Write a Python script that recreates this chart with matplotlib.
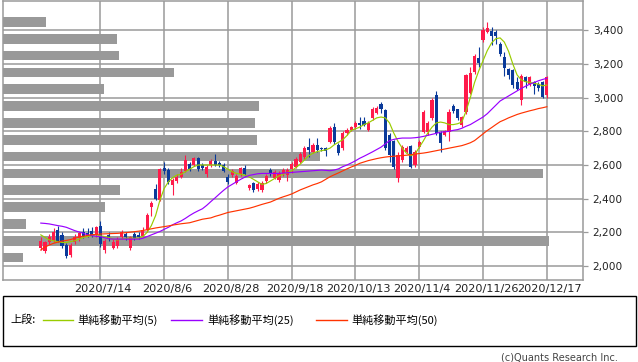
import matplotlib
matplotlib.use("Agg")
import matplotlib.pyplot as plt
from matplotlib.lines import Line2D
from matplotlib.patches import Rectangle
from matplotlib.transforms import ScaledTranslation
import numpy as np

# ---------------- data ----------------
opens = [2110, 2090, 2140, 2150, 2215, 2185, 2125, 2065, 2140, 2165,
         2200, 2195, 2210, 2185, 2235, 2095, 2185, 2110, 2120, 2170,
         2190, 2110, 2190, 2185, 2180, 2215, 2350, 2455, 2395, 2585,
         2570, 2480, 2505, 2530, 2565, 2605, 2600, 2640, 2600, 2545,
         2600, 2625, 2610, 2600, 2530, 2540, 2495, 2545, 2580, 2465,
         2495, 2455, 2450, 2505, 2570, 2525, 2510, 2545, 2540, 2575,
         2590, 2620, 2645, 2705, 2680, 2720, 2700, 2700, 2735, 2825,
         2720, 2700, 2790, 2805, 2825, 2850, 2860, 2810, 2880, 2910,
         2960, 2925, 2780, 2740, 2525, 2630, 2680, 2710, 2600, 2705,
         2795, 2795, 2880, 3015, 2790, 2780, 2795, 2950, 2930, 2835,
         2915, 3025, 3150, 3235, 3340, 3390, 3395, 3390, 3320, 3240,
         3170, 3165, 3095, 2985, 3125, 3080, 3095, 3080, 3095, 3015]
highs = [2170, 2150, 2190, 2225, 2240, 2200, 2135, 2135, 2190, 2205,
         2225, 2225, 2230, 2240, 2265, 2160, 2205, 2160, 2170, 2215,
         2200, 2180, 2200, 2200, 2230, 2315, 2385, 2490, 2585, 2620,
         2580, 2525, 2545, 2580, 2660, 2620, 2650, 2645, 2610, 2600,
         2635, 2665, 2625, 2610, 2545, 2575, 2545, 2590, 2600, 2490,
         2500, 2500, 2505, 2545, 2580, 2570, 2565, 2580, 2580, 2615,
         2645, 2680, 2710, 2760, 2730, 2760, 2705, 2705, 2830, 2850,
         2730, 2800, 2820, 2830, 2860, 2885, 2885, 2860, 2945, 2950,
         2975, 2935, 2790, 2750, 2680, 2720, 2710, 2720, 2690, 2750,
         2925, 2860, 2995, 3040, 2800, 2810, 2930, 2960, 2935, 2890,
         3140, 3180, 3260, 3300, 3420, 3450, 3420, 3400, 3330, 3270,
         3175, 3170, 3120, 3140, 3130, 3130, 3100, 3090, 3100, 3130]
lows = [2095, 2075, 2130, 2140, 2140, 2105, 2045, 2055, 2130, 2150,
        2165, 2170, 2175, 2175, 2115, 2080, 2150, 2100, 2110, 2160,
        2155, 2095, 2155, 2160, 2170, 2200, 2295, 2390, 2385, 2545,
        2490, 2420, 2495, 2520, 2560, 2565, 2595, 2565, 2570, 2530,
        2590, 2595, 2590, 2560, 2485, 2530, 2485, 2535, 2535, 2450,
        2440, 2445, 2440, 2495, 2535, 2515, 2500, 2535, 2505, 2555,
        2580, 2610, 2635, 2650, 2670, 2680, 2685, 2655, 2730, 2725,
        2660, 2690, 2780, 2800, 2815, 2815, 2830, 2800, 2870, 2900,
        2910, 2690, 2620, 2575, 2500, 2620, 2670, 2580, 2590, 2700,
        2790, 2780, 2870, 2780, 2680, 2770, 2740, 2910, 2870, 2825,
        2905, 3020, 3140, 3180, 3330, 3385, 3310, 3320, 3250, 3130,
        3110, 3060, 3045, 2955, 3060, 3070, 3020, 3040, 3000, 3000]
closes = [2150, 2140, 2175, 2205, 2150, 2120, 2060, 2125, 2175, 2195,
          2180, 2180, 2185, 2230, 2130, 2150, 2165, 2145, 2160, 2205,
          2170, 2170, 2165, 2170, 2215, 2305, 2375, 2400, 2575, 2565,
          2500, 2510, 2530, 2560, 2630, 2575, 2640, 2575, 2585, 2590,
          2625, 2600, 2600, 2565, 2500, 2565, 2535, 2580, 2545, 2480,
          2450, 2490, 2495, 2535, 2545, 2560, 2555, 2570, 2570, 2605,
          2635, 2665, 2700, 2690, 2720, 2690, 2695, 2685, 2820, 2735,
          2670, 2790, 2810, 2825, 2850, 2840, 2840, 2850, 2930, 2940,
          2930, 2700, 2660, 2590, 2660, 2705, 2700, 2590, 2680, 2735,
          2915, 2850, 2985, 2790, 2730, 2800, 2915, 2920, 2880, 2885,
          3135, 3145, 3250, 3205, 3400, 3415, 3365, 3365, 3260, 3175,
          3135, 3075, 3050, 3130, 3095, 3125, 3070, 3055, 3005, 3125]

sma5 = [2185, 2170, 2155, 2150, 2145, 2140, 2140, 2145, 2150, 2160,
        2170, 2175, 2180, 2185, 2180, 2175, 2170, 2160, 2155, 2160,
        2165, 2165, 2165, 2165, 2175, 2200, 2240, 2300, 2390, 2460,
        2500, 2525, 2540, 2545, 2560, 2575, 2590, 2600, 2600, 2600,
        2600, 2600, 2600, 2590, 2575, 2560, 2550, 2545, 2540, 2530,
        2515, 2500, 2485, 2490, 2505, 2520, 2535, 2545, 2555, 2565,
        2585, 2605, 2630, 2655, 2670, 2680, 2685, 2690, 2700, 2720,
        2735, 2750, 2775, 2805, 2815, 2825, 2840, 2850, 2865, 2880,
        2885, 2880, 2850, 2790, 2740, 2700, 2670, 2655, 2665, 2705,
        2745, 2790, 2825, 2850, 2855, 2850, 2840, 2840, 2845, 2855,
        2920, 3000, 3090, 3160, 3220, 3280, 3325, 3350, 3355, 3330,
        3275, 3200, 3135, 3105, 3095, 3090, 3085, 3080, 3070, 3075]
sma25 = [2255, 2253, 2250, 2245, 2240, 2236, 2230, 2220, 2210, 2202,
         2195, 2185, 2180, 2177, 2175, 2168, 2162, 2160, 2160, 2160,
         2160, 2160, 2160, 2160, 2165, 2175, 2185, 2195, 2205, 2218,
         2230, 2245, 2257, 2268, 2283, 2300, 2315, 2328, 2340, 2360,
         2383, 2405, 2428, 2450, 2470, 2485, 2500, 2515, 2528, 2538,
         2543, 2548, 2550, 2550, 2550, 2550, 2550, 2552, 2554, 2556,
         2558, 2560, 2562, 2564, 2566, 2568, 2570, 2568, 2566, 2570,
         2577, 2590, 2600, 2612, 2625, 2640, 2652, 2665, 2678, 2692,
         2706, 2725, 2745, 2752, 2757, 2760, 2760, 2760, 2762, 2765,
         2770, 2776, 2782, 2788, 2795, 2797, 2800, 2806, 2810, 2818,
         2830, 2840, 2855, 2870, 2885, 2905, 2930, 2955, 2980, 2995,
         3010, 3025, 3040, 3055, 3068, 3080, 3090, 3100, 3108, 3115]
sma50 = [2095, 2113, 2125, 2135, 2142, 2148, 2152, 2157, 2165, 2173,
         2177, 2182, 2186, 2188, 2190, 2191, 2192, 2193, 2194, 2196,
         2198, 2201, 2204, 2207, 2211, 2216, 2221, 2226, 2230, 2234,
         2238, 2243, 2247, 2251, 2254, 2257, 2264, 2271, 2278, 2282,
         2286, 2295, 2302, 2310, 2318, 2323, 2328, 2333, 2338, 2343,
         2350, 2358, 2366, 2373, 2380, 2391, 2402, 2411, 2419, 2428,
         2440, 2452, 2462, 2472, 2482, 2490, 2500, 2515, 2530, 2542,
         2553, 2565, 2577, 2588, 2598, 2610, 2618, 2626, 2632, 2638,
         2643, 2647, 2650, 2652, 2654, 2656, 2658, 2661, 2665, 2668,
         2671, 2675, 2680, 2685, 2690, 2695, 2700, 2705, 2710, 2715,
         2723, 2732, 2745, 2765, 2785, 2805, 2822, 2840, 2857, 2868,
         2880, 2890, 2900, 2908, 2915, 2922, 2928, 2935, 2940, 2946]

# volume-by-price profile (price bin centres, relative volume)
vp_price = [3450, 3350, 3250, 3150, 3050, 2950, 2850, 2750, 2650, 2550,
            2450, 2350, 2250, 2150, 2050]
vp_volume = [43, 114, 116, 171, 101, 256, 252, 254, 317, 540,
             117, 102, 23, 546, 20]

tick_idx = [14, 29, 44, 59, 74, 89, 104, 119]
tick_labels = ["2020/7/14", "2020/8/6", "2020/8/28", "2020/9/18",
               "2020/10/13", "2020/11/4", "2020/11/26", "2020/12/17"]
y_ticks = [2000, 2200, 2400, 2600, 2800, 3000, 3200, 3400]

legend_head = "上段:"
ma_labels = ["単純移動平均(5)", "単純移動平均(25)", "単純移動平均(50)"]
credit = "(c)Quants Research Inc."

# ---------------- styling ----------------
RED = "#ff1a4a"
BLUE = "#0a3a9a"
C5, C25, C50 = "#99cc00", "#9900ff", "#ff3300"
GRID = "#9a9a9a"

W, H = 638, 362
fig = plt.figure(figsize=(W / 100, H / 100), dpi=100)
fig.patch.set_facecolor("white")

def fx(px):
    return px / W

def fy(py):
    return 1 - py / H

rect = [fx(3), fy(280), fx(580), 279 / H]
ax = fig.add_axes(rect)
axv = ax.twiny()
ax.set_zorder(2)
axv.set_zorder(1)
ax.patch.set_visible(False)

# volume profile
axv.barh(vp_price, vp_volume, height=58, left=0, color="#999999", linewidth=0)
axv.set_xlim(0, 580)
axv.xaxis.set_visible(False)
for s in axv.spines.values():
    s.set_visible(False)

idx = np.arange(len(closes))
O = np.array(opens); Hh = np.array(highs); L = np.array(lows); C = np.array(closes)
cols = [RED if c >= o else BLUE for o, c in zip(O, C)]
ax.vlines(idx, L, Hh, colors=cols, linewidth=0.8, zorder=3)
ax.bar(idx, np.maximum(np.abs(C - O), 5), bottom=np.minimum(O, C), width=0.74,
       color=cols, linewidth=0, zorder=4)

ax.plot(idx, sma5, color=C5, lw=0.85, zorder=5)
ax.plot(idx, sma25, color=C25, lw=0.85, zorder=5)
ax.plot(idx, sma50, color=C50, lw=0.85, zorder=5)

ax.set_xlim(-8.89, 127.5)
ax.set_ylim(1917, 3574)
ax.set_xticks(tick_idx)
ax.set_xticklabels(tick_labels)
ax.set_yticks(y_ticks)
ax.set_yticklabels([f"{v:,}" for v in y_ticks])
ax.yaxis.tick_right()
ax.grid(True, color=GRID, lw=1.1)
ax.set_axisbelow(True)
ax.tick_params(axis="y", direction="out", length=3.5, width=0.9, color=GRID,
               pad=3.5, labelsize=7.6, labelcolor="#222222")
ax.tick_params(axis="x", length=0, pad=3, labelsize=8.1, labelcolor="#222222")
shift = ScaledTranslation(3 / 100, 0, fig.dpi_scale_trans)
for lbl in ax.get_xticklabels():
    lbl.set_transform(lbl.get_transform() + shift)
for s in ax.spines.values():
    s.set_color(GRID)
    s.set_linewidth(1.1)

# legend box
fig.add_artist(Rectangle((fx(3), fy(346)), fx(633), 50 / H, transform=fig.transFigure,
                         facecolor="white", edgecolor="black", lw=1.0))
cjk = ["Noto Sans CJK JP", "DejaVu Sans"]
ly = fy(320)
fig.text(fx(10), ly, legend_head, family=cjk, fontsize=8, va="center", ha="left")
for (x0, x1, tx), lab, col in zip([(43, 73, 77), (171, 202, 207), (316, 347, 351)],
                                  ma_labels, [C5, C25, C50]):
    fig.add_artist(Line2D([fx(x0), fx(x1)], [ly, ly], transform=fig.transFigure,
                          color=col, lw=1.0))
    fig.text(fx(tx), ly, lab, family=cjk, fontsize=8, va="center", ha="left")

fig.text(fx(618), fy(357), credit, fontsize=7, color="#444444", ha="right", va="center")

fig.savefig("out.png", dpi=100)
